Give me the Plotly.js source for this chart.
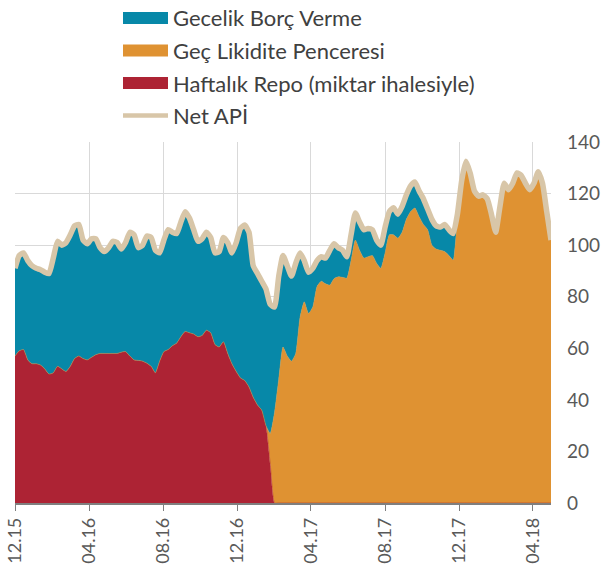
<!DOCTYPE html>
<html>
<head>
<meta charset="utf-8">
<script src="https://cdn.plot.ly/plotly-3.0.1.min.js"></script>
<style>
  body { margin: 0; background: #fff; }
  #chart { width: 604px; height: 578px; }
</style>
</head>
<body>
<div id="chart"></div>
<script>
// weekly observations, first one on 1 Dec 2015
const startDate = "2015-12-01";

// Haftalık Repo (miktar ihalesiyle), billion TL
const repo = [
  57, 59, 59.5, 55.5, 54, 54, 53.5, 52, 50, 50.5,
  53, 52, 51, 53, 56, 57, 56, 55.5, 56.5, 57.5,
  58, 58, 58, 58, 58, 58.5, 58.7, 57, 55.5, 55.3,
  55, 54.2, 53, 50.5, 55, 58.7, 59.5, 61, 62, 64.5,
  66.5, 66, 65.5, 64.5, 65, 67, 66, 61.5, 60.5, 62.5,
  58, 54, 51, 48.5, 47.5, 45, 41, 38, 36, 30,
  15, 0, 0, 0, 0, 0, 0, 0, 0, 0,
  0, 0, 0, 0, 0, 0, 0, 0, 0, 0,
  0, 0, 0, 0, 0, 0, 0, 0, 0, 0,
  0, 0, 0, 0, 0, 0, 0, 0, 0, 0,
  0, 0, 0, 0, 0, 0, 0, 0, 0, 0,
  0, 0, 0, 0, 0, 0, 0, 0, 0, 0,
  0, 0, 0, 0, 0, 0, 0
];

// Geç Likidite Penceresi
const glp = [
  0, 0, 0, 0, 0, 0, 0, 0, 0, 0,
  0, 0, 0, 0, 0, 0, 0, 0, 0, 0,
  0, 0, 0, 0, 0, 0, 0, 0, 0, 0,
  0, 0, 0, 0, 0, 0, 0, 0, 0, 0,
  0, 0, 0, 0, 0, 0, 0, 0, 0, 0,
  0, 0, 0, 0, 0, 0, 0, 0, 0, 0,
  12, 35, 48, 60.5, 57, 55, 58, 72, 78, 73.5,
  76, 84, 86, 85, 84.5, 87, 87.7, 87.5, 87.2, 94,
  102, 98, 95, 95.5, 96, 93, 91, 97, 104, 104,
  102.7, 105, 110, 113, 114.4, 111, 108, 106, 100, 98.5,
  98, 97.5, 96, 94.2, 110, 125, 132.5, 128, 121, 119,
  119.5, 118, 112, 105, 115, 124, 121.5, 124, 128, 127,
  124, 121.5, 124, 128.5, 124, 113, 102
];

// Gecelik Borç Verme
const gecelik = [
  34, 37, 37.5, 38.5, 38, 37, 37, 37.5, 39, 44.5,
  48.5, 48, 50, 51, 51.5, 51, 46, 45, 46, 45,
  41, 39.5, 41, 43.5, 43, 40, 42.3, 48, 48.5, 43.7,
  45, 49.3, 50, 47.5, 42, 43.3, 46.5, 44, 42.5, 44.5,
  46.5, 44.5, 40.5, 37, 37.5, 38, 37, 35.5, 37, 40.5,
  43, 43, 50, 58, 60.3, 60, 51, 51, 50, 53,
  50, 41, 40, 35.5, 35, 33, 35, 25, 16, 16,
  15, 10, 9.5, 10, 13.5, 13.5, 11.3, 10.5, 8.3, 10,
  10.5, 11, 11, 11, 10, 9, 9, 10, 9, 10.5,
  9.3, 10, 9.5, 10, 10.1, 10, 10, 8, 10, 9,
  9, 10.5, 10, 10.3, 2, 0, 0, 0, 0, 0,
  0, 0, 0, 0, 0, 0, 0, 0, 0, 0,
  0, 0, 0, 0, 0, 0, 0
];

// Net APİ
const netApi = [
  91, 96, 97, 94, 92, 91, 90.5, 89.5, 89, 95,
  101.5, 100, 101, 104, 107.5, 108, 102, 100.5, 102.5, 102.5,
  99, 97.5, 99, 101.5, 101, 98.5, 101, 105, 104, 99,
  100, 103.5, 103, 98, 97, 102, 106, 105, 104.5, 109,
  113, 110.5, 106, 101.5, 102.5, 105, 103, 97, 97.5, 103,
  101, 97, 101, 106.5, 107.8, 105, 92, 89, 86, 83,
  77, 76, 88, 96, 92, 88, 93, 97, 94, 89.5,
  91, 94, 95.5, 95, 98, 100.5, 99, 98, 95.5, 104,
  112.5, 109, 106, 106.5, 106, 102, 100, 107, 113, 114.5,
  112, 115, 119.5, 123, 124.5, 121, 118, 114, 110, 107.5,
  107, 108, 106, 104.5, 112, 125, 132.5, 128, 121, 119,
  119.5, 118, 112, 105, 115, 124, 121.5, 124, 128, 127,
  124, 121.5, 124, 128.5, 124, 113, 102
];

const tickDates = ["2015-12-01", "2016-04-01", "2016-08-01", "2016-12-01",
                   "2017-04-01", "2017-08-01", "2017-12-01", "2018-04-01"];
const tickLabels = ["12.15", "04.16", "08.16", "12.16", "04.17", "08.17", "12.17", "04.18"];
const yTicks = [0, 20, 40, 60, 80, 100, 120, 140];

const colRepo = "#ad2334";
const colGlp = "#df9232";
const colGecelik = "#0788a8";
const colNet = "#d8c6a8";

// build the weekly date axis
let dates = [];
for (let i = 0; i < netApi.length; i++) {
    let d = new Date(startDate + "T00:00:00Z");
    d.setUTCDate(d.getUTCDate() + 7 * i);
    dates.push(d.toISOString().slice(0, 10));
}

function areaTrace(name, values, color) {
    return {
        x: dates, y: values, name: name,
        type: "scatter", mode: "lines",
        stackgroup: "one",
        line: {width: 0.5, color: color, shape: "spline", smoothing: 0.5},
        fillcolor: color,
        hoverinfo: "skip"
    };
}

const data = [
    areaTrace("Haftalık Repo (miktar ihalesiyle)", repo, colRepo),
    areaTrace("Geç Likidite Penceresi", glp, colGlp),
    areaTrace("Gecelik Borç Verme", gecelik, colGecelik),
    {
        x: dates, y: netApi, name: "Net APİ",
        type: "scatter", mode: "lines",
        line: {width: 5.5, color: colNet, shape: "spline", smoothing: 0.5},
        hoverinfo: "skip"
    }
];

// legend drawn by hand above the plot: wide swatches like the original
const W = 604, H = 578;
const M = {l: 15, r: 53, t: 142, b: 75};
const px2x = px => (px - M.l) / (W - M.l - M.r);
const py2y = py => (H - M.b - py) / (H - M.t - M.b);

const legendItems = [
    {label: "Gecelik Borç Verme", color: colGecelik, kind: "box"},
    {label: "Geç Likidite Penceresi", color: colGlp, kind: "box"},
    {label: "Haftalık Repo (miktar ihalesiyle)", color: colRepo, kind: "box"},
    {label: "Net APİ", color: colNet, kind: "line"}
];

let shapes = [];
let annotations = [];
legendItems.forEach((item, k) => {
    const cy = 18 + k * 32.5;
    if (item.kind === "box") {
        shapes.push({
            type: "rect", xref: "paper", yref: "paper",
            x0: px2x(123), x1: px2x(168), y0: py2y(cy - 6), y1: py2y(cy + 6),
            fillcolor: item.color, line: {width: 0}
        });
    } else {
        shapes.push({
            type: "line", xref: "paper", yref: "paper",
            x0: px2x(123), x1: px2x(168), y0: py2y(cy), y1: py2y(cy),
            line: {color: item.color, width: 4.5}
        });
    }
    annotations.push({
        xref: "paper", yref: "paper",
        x: px2x(171), y: py2y(cy),
        xanchor: "left", yanchor: "middle",
        text: item.label, showarrow: false,
        font: {size: 22, color: "#404040", family: "Lato, 'Noto Sans', sans-serif"}
    });
});

const layout = {
    width: W,
    height: H,
    margin: M,
    paper_bgcolor: "#ffffff",
    plot_bgcolor: "#ffffff",
    font: {family: "Lato, 'Noto Sans', sans-serif", color: "#595959"},
    showlegend: false,
    shapes: shapes,
    annotations: annotations,
    xaxis: {
        type: "date",
        range: [startDate, "2018-05-01"],
        tickvals: tickDates,
        ticktext: tickLabels,
        tickangle: -90,
        tickfont: {size: 18, color: "#595959"},
        ticks: "outside",
        ticklen: 6,
        tickcolor: "#7f7f7f",
        showline: true,
        linecolor: "#7f7f7f",
        linewidth: 1.5,
        showgrid: true,
        gridcolor: "#d9d9d9",
        gridwidth: 1,
        zeroline: false,
        automargin: false,
        fixedrange: true
    },
    yaxis: {
        side: "right",
        range: [0, 140],
        tickvals: yTicks,
        tickfont: {size: 19, color: "#595959"},
        ticklabelstandoff: 15,
        showgrid: true,
        gridcolor: "#d9d9d9",
        gridwidth: 1,
        zeroline: false,
        showline: false,
        automargin: false,
        fixedrange: true
    }
};

Plotly.newPlot("chart", data, layout, {displayModeBar: false, staticPlot: true});
</script>
</body>
</html>
